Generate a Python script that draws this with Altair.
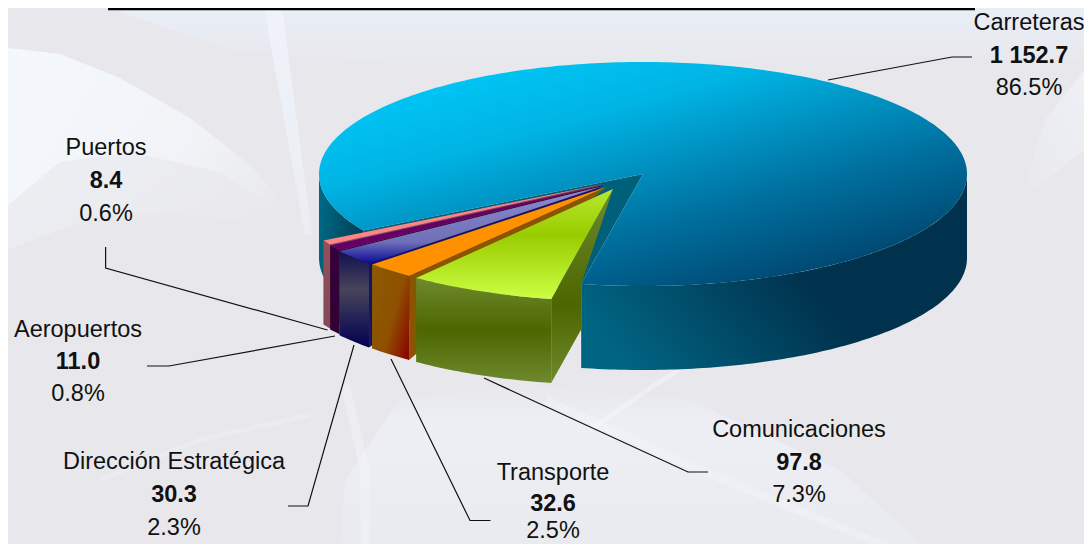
import math
import altair as alt
import pandas as pd

# ---- values ----
CATEGORIES = ["Carreteras", "Comunicaciones", "Transporte", "Dirección Estratégica", "Aeropuertos", "Puertos"]
AMOUNTS = [1152.7, 97.8, 32.6, 30.3, 11.0, 8.4]
AMOUNT_LABELS = ["1 152.7", "97.8", "32.6", "30.3", "11.0", "8.4"]
SHARE_LABELS = ["86.5%", "7.3%", "2.5%", "2.3%", "0.8%", "0.6%"]

# ---- layout (picture pixels) ----
LABEL_X = [1029, 799, 553, 174, 78, 106]
NAME_Y = [23, 430, 473, 462, 330, 148]
AMOUNT_Y = [56, 463, 504, 495, 362, 181]
SHARE_Y = [88, 495, 531, 528, 394, 214]
FONT = "Liberation Sans"
FONT_SIZE = 23.5
W, H = 1076, 536
CX, CY, RX, RY, DEPTH = 643, 174, 324, 112, 84
START_ANGLE = 101.0
APEX_SHIFT = [(0, 0), (-30, 15), (-37, 13), (-40, 12), (-40, 11), (-40, 10)]
LEADERS = [
    [(828, 80), (952, 57), (972, 57)],
    [(484, 378), (688, 472), (708, 472)],
    [(391, 359), (470, 520.5), (490.5, 520.5)],
    [(354, 345), (308, 506), (288, 506)],
    [(335, 336), (169, 366), (147, 366)],
    [(105.6, 247), (105.6, 268), (327.5, 330)],
]
TOP_RULE = [(108, 9), (975, 9)]

X = alt.X("x:Q", axis=None, scale=alt.Scale(domain=[8, 8 + W], nice=False, zero=False))
Y = alt.Y("y:Q", axis=None, scale=alt.Scale(domain=[8 + H, 8], nice=False, zero=False))


def grad(stops, x1=0, y1=0, x2=0, y2=1):
    return alt.LinearGradient(
        gradient="linear", x1=x1, y1=y1, x2=x2, y2=y2,
        stops=[alt.GradientStop(offset=o, color=c) for o, c in stops],
    )


def face(points, fill):
    df = pd.DataFrame(points, columns=["x", "y"])
    df["i"] = range(len(df))
    return alt.Chart(df).mark_line(
        fill=fill, strokeWidth=0, stroke="transparent", clip=True
    ).encode(x=X, y=Y, order="i:Q")


def rim(ax, ay, p0, p1, drop=0):
    n = max(2, int(abs(p1 - p0)) + 1)
    out = []
    for k in range(n + 1):
        p = math.radians(p0 + (p1 - p0) * k / n)
        out.append((ax + RX * math.cos(p), ay + RY * math.sin(p) + drop))
    return out


def wall(ax, ay, p0, p1):
    return rim(ax, ay, p0, p1) + rim(ax, ay, p1, p0, DEPTH)


def link(points, width=1.2, color="#111111", opacity=1.0):
    df = pd.DataFrame(points, columns=["x", "y"])
    df["i"] = range(len(df))
    return alt.Chart(df).mark_line(color=color, strokeWidth=width, opacity=opacity, clip=True).encode(
        x=X, y=Y, order="i:Q"
    )


layers = []

# ---- soft background sweep ----
WHITE0 = "rgba(248,251,255,0)"
WHITE1 = "rgba(246,250,254,0.85)"
BLUE1 = "rgba(233,238,248,0.9)"
BLUE0 = "rgba(233,238,248,0)"
GLOW_A = [(8, 48), (60, 54), (120, 78), (190, 118), (250, 165), (310, 232), (220, 172), (130, 152), (60, 162), (8, 205)]
GLOW_A2 = [(8, 205), (60, 162), (130, 152), (220, 172), (310, 232), (200, 215), (100, 215), (8, 250)]
GLOW_B = [(264, 8), (282, 8), (312, 235), (305, 235)]
GLOW_C = [(340, 552), (345, 480), (400, 400), (520, 385), (690, 400), (840, 470), (930, 552)]
GLOW_E = [(108, 8), (1084, 8), (1084, 60), (840, 55), (500, 70), (230, 50)]
GLOW_D = [(1084, 70), (1084, 150), (1020, 200), (1045, 120)]
layers.append(face(GLOW_E, grad([(0, BLUE1), (1, BLUE0)])))
layers.append(face(GLOW_A, grad([(0, WHITE1), (0.6, "rgba(246,250,254,0.6)"), (1, WHITE0)], x1=0, y1=0.3, x2=1, y2=0.7)))
layers.append(face(GLOW_A2, grad([(0, "rgba(240,244,250,0.5)"), (1, WHITE0)], x1=0, y1=0, x2=1, y2=0.6)))
layers.append(face(GLOW_B, grad([(0, "rgba(240,243,251,0.9)"), (1, "rgba(240,243,251,0.5)")])))
layers.append(face(GLOW_C, grad([(0, "rgba(238,241,248,0)"), (0.25, "rgba(238,241,248,0.75)"), (1, "rgba(238,241,248,0.25)")])))
layers.append(face(GLOW_D, grad([(0, "rgba(241,244,250,0.7)"), (1, "rgba(241,244,250,0)")], x1=1, y1=0, x2=0, y2=1)))
for sweep, wid, op in (
    ([(365, 552), (365, 470), (345, 385)], 9, 0.35),
    ([(100, 480), (200, 440), (310, 415)], 5, 0.25),
    ([(546, 400), (700, 470), (900, 552)], 8, 0.3),
    ([(590, 430), (640, 395), (690, 362)], 5, 0.4),
):
    layers.append(link(sweep, wid, "#f7f9fd", op))

# ---- slice angles from the values ----
total = sum(AMOUNTS)
sweeps = [360 * a / total for a in AMOUNTS]
edges = [START_ANGLE]
for s in sweeps[1:]:
    edges.append(edges[-1] + s)
p_end = edges[-1]

# ---- Carreteras ----
rim_end = rim(CX, CY, START_ANGLE, START_ANGLE)[0]
rim_left = rim(CX, CY, p_end, p_end)[0]
layers.append(face([(CX, CY), rim_left, (rim_left[0], rim_left[1] + DEPTH), rim_end], "#005f79"))
layers.append(face(wall(CX, CY, 0, START_ANGLE),
                   grad([(0, "#00314d"), (0.45, "#00334e"), (1, "#006583")], x1=1, y1=0.3, x2=0, y2=0.7)))
layers.append(face(wall(CX, CY, p_end, 180),
                   grad([(0, "#003c52"), (1, "#006a86")], x1=1, y1=0.5, x2=0, y2=0.2)))
layers.append(face([(CX, CY)] + rim(CX, CY, p_end, START_ANGLE + 360),
                   grad([(0, "#00cdfd"), (0.3, "#00b4e4"), (0.65, "#00709f"), (1, "#00385f")],
                        x1=0.1, y1=0, x2=0.9, y2=1)))

# ---- the pulled-out slices, back to front ----
STYLES = {
    5: dict(top="#ff8484", wall=grad([(0, "#96505a"), (1, "#824a55")]), cut="#8a4a50"),
    4: dict(top="#660066", wall=grad([(0, "#33003c"), (1, "#330033")]), cut="#330038"),
    3: dict(top=grad([(0, "#8c8ccc"), (0.72, "#7070b8"), (1, "#0a0a98")]),
            wall=grad([(0, "#101050"), (0.4, "#48445a"), (1, "#000052")]), cut="#141460"),
    2: dict(top=grad([(0, "#ff9000"), (1, "#ff9000")]),
            wall=grad([(0, "#8c5a00"), (0.55, "#8f5000"), (1, "#8b0500")], x1=0, y1=0.2, x2=1, y2=0.9), cut="#8a5500"),
    1: dict(top=grad([(0, "#b8e830"), (0.42, "#99cc00"), (1, "#ccff44")]),
            wall=grad([(0, "#6f8a2e"), (0.5, "#4d6600"), (1, "#6f8a2e")]),
            cut=grad([(0, "#6f8a2e"), (0.6, "#4d6600"), (1, "#6f8a2e")])),
}
for idx in (5, 4, 3, 2, 1):
    st = STYLES[idx]
    ax, ay = CX + APEX_SHIFT[idx][0], CY + APEX_SHIFT[idx][1]
    p0 = edges[idx - 1]
    p1 = edges[idx]
    r0 = rim(ax, ay, p0, p0)[0]
    if idx == 1:
        t = (rim_end[0] - r0[0]) / (ax - r0[0])
        stop_y = r0[1] + DEPTH + t * (ay - r0[1])
        cut_pts = [(ax, ay), r0, (r0[0], r0[1] + DEPTH), (rim_end[0], stop_y), rim_end]
    else:
        cut_pts = [(ax, ay), r0, (r0[0], r0[1] + DEPTH)]
    layers.append(face(cut_pts, st["cut"]))
    layers.append(face(wall(ax, ay, p0, p1), st["wall"]))
    layers.append(face([(ax, ay)] + rim(ax, ay, p0, p1), st["top"]))

# ---- leader lines ----
for pts in LEADERS:
    layers.append(link(pts))
layers.append(link(TOP_RULE, 2.4, "#000000"))

# ---- labels ----
rows = []
for i, name in enumerate(CATEGORIES):
    rows.append(dict(x=LABEL_X[i], y=NAME_Y[i], t=name, w="normal"))
    rows.append(dict(x=LABEL_X[i], y=AMOUNT_Y[i], t=AMOUNT_LABELS[i], w="bold"))
    rows.append(dict(x=LABEL_X[i], y=SHARE_Y[i], t=SHARE_LABELS[i], w="normal"))
text = pd.DataFrame(rows)
for weight in ("normal", "bold"):
    layers.append(
        alt.Chart(text[text.w == weight]).mark_text(
            font=FONT, fontSize=FONT_SIZE, fontWeight=weight, color="#111111",
            align="center", baseline="middle",
        ).encode(x=X, y=Y, text="t:N")
    )

chart = (
    alt.layer(*layers)
    .resolve_scale(x="shared", y="shared")
    .properties(width=W, height=H, padding=0, autosize=alt.AutoSizeParams(type="none"), background="#e8e8ec")
    .configure_view(stroke=None)
)
chart.save("out.html", embed_options={"renderer": "svg", "actions": False})
